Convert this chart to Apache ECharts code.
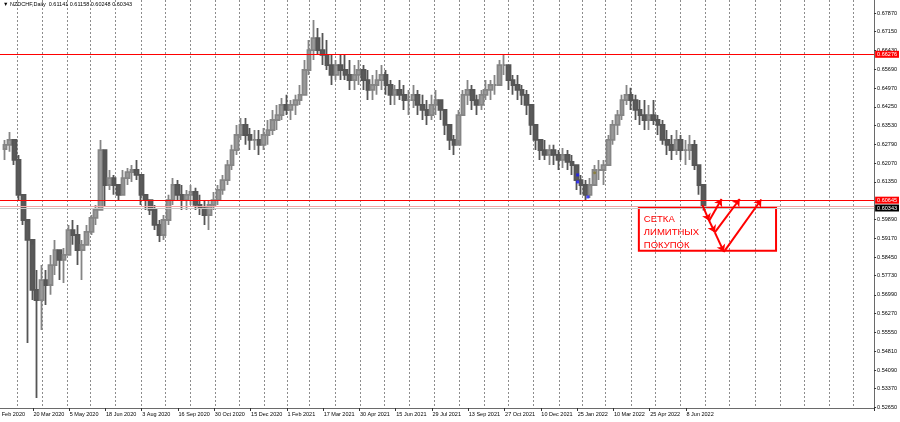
<!DOCTYPE html>
<html><head><meta charset="utf-8">
<script src="https://cdn.jsdelivr.net/npm/echarts@6/dist/echarts.min.js"></script>
<style>html,body{margin:0;padding:0;background:#fff}#c{width:900px;height:422px}</style>
</head><body><div id="c"></div>
<script>
// ---------- data ----------
const symbolTitle = '\u25BC NZDCHF,Daily  0.61141 0.61158 0.60248 0.60343';
const calendarStart = '2020-02-05';
const totalSlots = 774;            // daily bars on the time axis (incl. future space)
const firstVisibleBar = 3;         // left edge of the window
const tickEvery = 32;              // date label every 32 bars
const tickDates = ['5 Feb 2020','20 Mar 2020','5 May 2020','18 Jun 2020','3 Aug 2020','16 Sep 2020','30 Oct 2020','15 Dec 2020','1 Feb 2021','17 Mar 2021','30 Apr 2021','15 Jun 2021','29 Jul 2021','13 Sep 2021','27 Oct 2021','10 Dec 2021','25 Jan 2022','10 Mar 2022','25 Apr 2022','8 Jun 2022'];
const priceTicks = [0.67870,0.67150,0.66430,0.65690,0.64970,0.64250,0.63530,0.62790,0.62070,0.61350,0.59890,0.59170,0.58450,0.57730,0.56990,0.56270,0.55550,0.54810,0.54090,0.53370,0.52650];
const priceMin = 0.52623, priceMax = 0.68372;

// 4-day candles (first candle centred on bar 7)
const firstOpen = 0.6262;
const highs  = [0.6297,0.6328,0.6297,0.6239,0.6085,0.5980,0.5892,0.5795,0.5814,0.5795,0.5853,0.5911,0.5872,0.5880,0.5969,0.5988,0.5969,0.5911,0.5969,0.6007,0.6046,0.6297,0.6220,0.6181,0.6162,0.6123,0.6181,0.6189,0.6200,0.6220,0.6162,0.6085,0.6065,0.6046,0.5988,0.6007,0.6085,0.6150,0.6142,0.6123,0.6104,0.6123,0.6112,0.6085,0.6065,0.6065,0.6096,0.6123,0.6162,0.6220,0.6278,0.6355,0.6382,0.6382,0.6343,0.6335,0.6335,0.6343,0.6374,0.6413,0.6432,0.6459,0.6471,0.6451,0.6471,0.6509,0.6606,0.6683,0.6760,0.6729,0.6710,0.6683,0.6625,0.6606,0.6625,0.6625,0.6606,0.6586,0.6606,0.6586,0.6567,0.6548,0.6567,0.6586,0.6567,0.6528,0.6509,0.6528,0.6509,0.6490,0.6509,0.6490,0.6471,0.6451,0.6471,0.6490,0.6451,0.6413,0.6355,0.6316,0.6413,0.6490,0.6528,0.6509,0.6471,0.6490,0.6528,0.6528,0.6548,0.6606,0.6625,0.6586,0.6548,0.6548,0.6509,0.6490,0.6432,0.6355,0.6297,0.6297,0.6278,0.6278,0.6258,0.6266,0.6258,0.6239,0.6200,0.6162,0.6142,0.6150,0.6200,0.6220,0.6220,0.6316,0.6374,0.6413,0.6471,0.6509,0.6498,0.6471,0.6451,0.6451,0.6432,0.6451,0.6393,0.6374,0.6335,0.6316,0.6335,0.6316,0.6297,0.6316,0.6297,0.6200,0.61158];
const lows   = [0.6220,0.6251,0.6200,0.6065,0.5969,0.5513,0.5679,0.5301,0.5563,0.5660,0.5699,0.5776,0.5756,0.5745,0.5853,0.5892,0.5814,0.5756,0.5892,0.5930,0.5969,0.6027,0.6038,0.6104,0.6085,0.6065,0.6085,0.6123,0.6135,0.6142,0.6046,0.6027,0.6007,0.5949,0.5903,0.5911,0.5969,0.6046,0.6065,0.6027,0.6027,0.6046,0.6027,0.6007,0.5969,0.5949,0.6027,0.6046,0.6085,0.6123,0.6181,0.6239,0.6297,0.6278,0.6258,0.6258,0.6239,0.6258,0.6278,0.6316,0.6335,0.6374,0.6393,0.6374,0.6393,0.6432,0.6471,0.6548,0.6606,0.6625,0.6586,0.6567,0.6509,0.6528,0.6528,0.6528,0.6490,0.6490,0.6509,0.6490,0.6451,0.6451,0.6471,0.6490,0.6471,0.6432,0.6432,0.6451,0.6413,0.6393,0.6420,0.6393,0.6374,0.6355,0.6374,0.6393,0.6374,0.6316,0.6258,0.6239,0.6297,0.6393,0.6432,0.6413,0.6393,0.6413,0.6451,0.6451,0.6471,0.6509,0.6548,0.6490,0.6471,0.6451,0.6432,0.6393,0.6316,0.6258,0.6220,0.6220,0.6200,0.6200,0.6181,0.6189,0.6181,0.6162,0.6104,0.6085,0.6065,0.6073,0.6123,0.6142,0.6123,0.6200,0.6278,0.6316,0.6374,0.6432,0.6413,0.6374,0.6355,0.6335,0.6335,0.6355,0.6316,0.6278,0.6239,0.6220,0.6239,0.6220,0.6200,0.6220,0.6181,0.6085,0.60248];
const closes = [0.6278,0.6297,0.6220,0.6085,0.5988,0.5911,0.5718,0.5679,0.5756,0.5737,0.5814,0.5872,0.5834,0.5853,0.5949,0.5930,0.5872,0.5892,0.5942,0.5996,0.6027,0.6258,0.6123,0.6150,0.6123,0.6085,0.6150,0.6173,0.6181,0.6162,0.6085,0.6065,0.6027,0.5969,0.5930,0.5988,0.6065,0.6123,0.6085,0.6065,0.6085,0.6096,0.6046,0.6034,0.6007,0.6046,0.6065,0.6104,0.6142,0.6200,0.6258,0.6316,0.6355,0.6316,0.6297,0.6297,0.6278,0.6316,0.6335,0.6374,0.6393,0.6432,0.6413,0.6432,0.6451,0.6471,0.6567,0.6644,0.6690,0.6644,0.6625,0.6586,0.6548,0.6586,0.6567,0.6548,0.6528,0.6548,0.6567,0.6528,0.6490,0.6509,0.6528,0.6548,0.6509,0.6471,0.6490,0.6471,0.6451,0.6451,0.6471,0.6432,0.6413,0.6393,0.6432,0.6451,0.6413,0.6355,0.6297,0.6278,0.6393,0.6471,0.6490,0.6451,0.6432,0.6471,0.6490,0.6509,0.6509,0.6586,0.6586,0.6528,0.6509,0.6490,0.6471,0.6432,0.6355,0.6297,0.6258,0.6239,0.6258,0.6239,0.6220,0.6239,0.6212,0.6200,0.6142,0.6123,0.6085,0.6123,0.6181,0.6181,0.6200,0.6297,0.6355,0.6393,0.6451,0.6471,0.6451,0.6413,0.6393,0.6374,0.6393,0.6374,0.6355,0.6297,0.6278,0.6258,0.6297,0.6258,0.6258,0.6278,0.6200,0.6123,0.60343];
const candleFirstBar = 7, candleStep = 4;

// horizontal levels drawn on the chart
const levelTop = 0.66276, levelBuy = 0.60645, levelSalmon = 0.6042, bidPrice = 0.60343;
// limit-order grid sketch (bar index, price)
const gridStart = [622, 0.6046];
const gridEntries = [[628, 0.5985], [633, 0.5940], [641, 0.5865]];
const gridTargets = [[639, 0.6069], [655, 0.6069], [674, 0.6067]];
const noteBox = [[566, 0.6034], [687, 0.5869]];
const noteText = 'СЕТКА\nЛИМИТНЫХ\nПОКУПОК';
const bluePoints = [[512, 0.6162], [512, 0.6135], [521, 0.6077]];
const olivePoints = [[527, 0.6170]];

// ---------- build ----------
function buildCalendar(start, n) {
  const out = []; const d = new Date(start + 'T00:00:00Z');
  while (out.length < n) {
    const wd = d.getUTCDay(), m = d.getUTCMonth(), day = d.getUTCDate();
    const hol = (m === 11 && day === 25) || (m === 0 && day === 1);
    if (wd !== 0 && wd !== 6 && !hol) out.push(d.toISOString().slice(0, 10));
    d.setUTCDate(d.getUTCDate() + 1);
  }
  return out;
}
const cats = buildCalendar(calendarStart, totalSlots);
const labelByDate = {};
tickDates.forEach((t, k) => { labelByDate[cats[k * tickEvery]] = t; });
const monthStart = {};
cats.forEach((c, i) => { if (i > 0 && c.slice(5, 7) !== cats[i - 1].slice(5, 7)) monthStart[c] = true; });
const candles = closes.map((c, i) => [candleFirstBar + candleStep * i, i === 0 ? firstOpen : closes[i - 1], c, lows[i], highs[i]]);
const F = 'Liberation Sans, Arial, sans-serif';

const red = '#ff0000';
const hLine = (v, color, w, lbl, bg) => ({
  yAxis: v, symbol: 'none',
  itemStyle: { color: color },
  lineStyle: { color: color, width: w, type: 'solid' },
  label: lbl ? { show: true, position: 'end', distance: 1, formatter: lbl, color: '#fff', backgroundColor: bg, fontSize: 5.5, fontFamily: F, padding: [1, 2, 0, 2] } : { show: false }
});
const seg = (a, b) => [
  { coord: [cats[a[0]], a[1]], symbol: 'none' },
  { coord: [cats[b[0]], b[1]], symbol: 'arrow', symbolSize: 7 }
];
const markData = [
  hLine(levelTop, red, 1.2, '0.66276', red),
  hLine(levelSalmon, '#f4a3a3', 1, null),
  hLine(bidPrice, '#c8c8c8', 1, '0.60343', '#000'),
  hLine(levelBuy, red, 1.2, '0.60645', red)
];
let prev = gridStart;
gridEntries.forEach((e, k) => { markData.push(seg(prev, e)); markData.push(seg(e, gridTargets[k])); prev = e; });

const chart = echarts.init(document.getElementById('c'), null, { renderer: 'canvas' });
chart.setOption({
  animation: false,
  backgroundColor: '#fff',
  grid: { left: 0, right: 24, top: 0, bottom: 14, containLabel: false },
  xAxis: {
    type: 'category', data: cats, boundaryGap: true, min: firstVisibleBar, max: totalSlots - 1,
    axisLine: { show: true, lineStyle: { color: '#6a6a6a', width: 1 } },
    axisTick: { show: true, interval: (i, v) => labelByDate[v] != null, length: 3, lineStyle: { color: '#333' } },
    axisLabel: { interval: (i, v) => labelByDate[v] != null, formatter: v => labelByDate[v] || '', align: 'left', fontSize: 5.5, fontFamily: F, color: '#000', margin: 3 },
    splitLine: { show: true, interval: (i, v) => !!monthStart[v], lineStyle: { color: '#8c8c8c', type: [2, 2], width: 1 } }
  },
  yAxis: {
    type: 'value', position: 'right', min: priceMin, max: priceMax, scale: true,
    axisLine: { show: true, lineStyle: { color: '#6a6a6a', width: 1 } },
    axisTick: { show: true, customValues: priceTicks, length: 2, inside: false, lineStyle: { color: '#333' } },
    axisLabel: { customValues: priceTicks, formatter: v => v.toFixed(5), fontSize: 5.5, fontFamily: F, color: '#000', margin: 3 },
    splitLine: { show: false }
  },
  series: [
    {
      type: 'candlestick', data: candles, encode: { x: 0, y: [1, 2, 3, 4] }, barWidth: 4.2,
      itemStyle: { color: '#9a9a9a', color0: '#5a5a5a', borderColor: '#858585', borderColor0: '#555555', borderWidth: 1.8 },
      markLine: { silent: true, animation: false, precision: 5, symbol: ['none', 'none'], data: markData,
        lineStyle: { color: red, width: 2, type: 'solid' }, label: { show: false } },
      markArea: { silent: true, data: [[
        { coord: [cats[noteBox[0][0]], noteBox[0][1]] },
        { coord: [cats[noteBox[1][0]], noteBox[1][1]] }
      ]], itemStyle: { color: 'rgba(0,0,0,0)', borderColor: red, borderWidth: 2 },
        label: { show: true, position: 'insideTopLeft', distance: 6, formatter: noteText, color: red, fontSize: 9.5, lineHeight: 13, fontFamily: F } }
    },
    { type: 'scatter', data: bluePoints.map(p => [cats[p[0]], p[1]]), symbol: 'rect', symbolSize: 3, itemStyle: { color: '#1a1aff' }, silent: true },
    { type: 'scatter', data: olivePoints.map(p => [cats[p[0]], p[1]]), symbol: 'circle', symbolSize: 3, itemStyle: { color: '#8a7a2a' }, silent: true }
  ]
});
// first date label sits left of the window edge and is cut by it, as in the terminal
const x0 = chart.convertToPixel({ xAxisIndex: 0 }, cats[0]);
const yLbl = chart.getHeight() - 11;
chart.setOption({ graphic: [
  { type: 'text', left: 3, top: 1, style: { text: symbolTitle, fontSize: 5.5, fontFamily: F, fill: '#000' } },
  { type: 'text', x: x0, y: yLbl, style: { text: tickDates[0], fontSize: 5.5, fontFamily: F, fill: '#000' } }
] });
</script></body></html>
